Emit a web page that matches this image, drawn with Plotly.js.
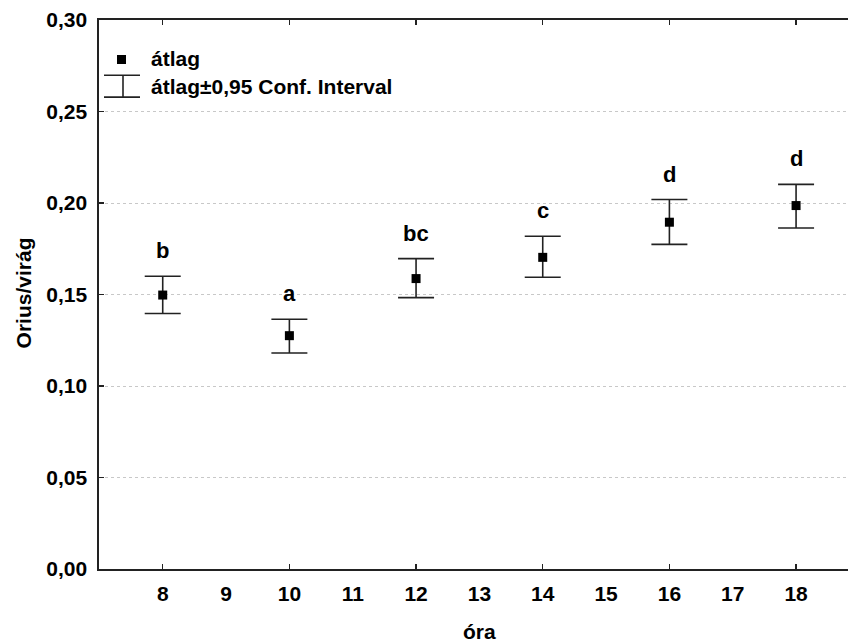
<!DOCTYPE html>
<html>
<head>
<meta charset="utf-8">
<script src="https://cdn.plot.ly/plotly-3.0.1.min.js"></script>
<style>html,body{margin:0;padding:0;background:#fff;}#chart{width:848px;height:642px;}</style>
</head>
<body>
<div id="chart"></div>
<script>
// Data
const hours = [8, 10, 12, 14, 16, 18];
const means = [0.1497, 0.1275, 0.1587, 0.1703, 0.1895, 0.1986];
const upper = [0.1600, 0.1365, 0.1696, 0.1818, 0.2019, 0.2102];
const lower = [0.1396, 0.1180, 0.1483, 0.1594, 0.1774, 0.1863];
const letters = ['b', 'a', 'bc', 'c', 'd', 'd'];
const xTickVals = [8, 9, 10, 11, 12, 13, 14, 15, 16, 17, 18];
const xMajorTicks = [8, 10, 12, 14, 16, 18];
const legendLabels = ['átlag', 'átlag±0,95 Conf. Interval'];
const xTitle = 'óra';
const yTitle = 'Orius/virág';

const W = 848, H = 642;
const L = 99, R = 848, T = 19.5, B = 568.7;
const px = x => (x - L) / (R - L);
const py = y => (B - y) / (B - T);

const FONT = 'Liberation Sans, Arial, sans-serif';
const fs = 21;
const axisColor = '#222';
const xRange = [6.994, 18.82];

const trace = {
  type: 'scatter',
  mode: 'markers',
  x: hours,
  y: means,
  marker: {symbol: 'square', size: 9, color: '#000'},
  error_y: {
    type: 'data',
    symmetric: false,
    array: upper.map((u, i) => u - means[i]),
    arrayminus: lower.map((l, i) => means[i] - l),
    color: axisColor,
    thickness: 1.6,
    width: 18
  },
  showlegend: false,
  hoverinfo: 'skip'
};

// empty trace only to bring the label axis into existence
const labelAxisTrace = {type: 'scatter', mode: 'markers', x: [], y: [], xaxis: 'x2', yaxis: 'y', showlegend: false, hoverinfo: 'skip'};

const annotations = hours.map((h, i) => ({
  x: h, y: upper[i], xref: 'x', yref: 'y',
  text: '<b>' + letters[i] + '</b>',
  showarrow: false, xanchor: 'center', yanchor: 'bottom', yshift: 11,
  font: {family: FONT, size: 22, color: '#000'}
}));

annotations.push({
  xref: 'paper', yref: 'paper', x: px(149), y: py(58),
  text: '<b>' + legendLabels[0] + '</b>', showarrow: false,
  xanchor: 'left', yanchor: 'middle',
  font: {family: FONT, size: fs, color: '#000'}
});
annotations.push({
  xref: 'paper', yref: 'paper', x: px(149), y: py(86),
  text: '<b>' + legendLabels[1] + '</b>', showarrow: false,
  xanchor: 'left', yanchor: 'middle',
  font: {family: FONT, size: fs, color: '#000'}
});
annotations.push({
  xref: 'paper', yref: 'paper', x: px(479), y: py(631),
  text: '<b>' + xTitle + '</b>', showarrow: false,
  xanchor: 'center', yanchor: 'middle',
  font: {family: FONT, size: fs, color: '#000'}
});
annotations.push({
  xref: 'paper', yref: 'paper', x: px(23), y: py(293),
  text: '<b>' + yTitle + '</b>', showarrow: false, textangle: -90,
  xanchor: 'center', yanchor: 'middle',
  font: {family: FONT, size: fs, color: '#000'}
});

const shapes = [
  {type: 'rect', xref: 'paper', yref: 'paper', x0: px(117), x1: px(126), y0: py(63.5), y1: py(54.5),
   fillcolor: '#000', line: {width: 0}},
  {type: 'line', xref: 'paper', yref: 'paper', x0: px(104), x1: px(140), y0: py(74.7), y1: py(74.7),
   line: {color: axisColor, width: 1.6}},
  {type: 'line', xref: 'paper', yref: 'paper', x0: px(104), x1: px(140), y0: py(96.7), y1: py(96.7),
   line: {color: axisColor, width: 1.6}},
  {type: 'line', xref: 'paper', yref: 'paper', x0: px(123), x1: px(123), y0: py(74.7), y1: py(96.7),
   line: {color: axisColor, width: 1.6}}
];

const layout = {
  width: W, height: H,
  margin: {l: L, r: W - R, t: T, b: H - B, pad: 0},
  paper_bgcolor: '#fff', plot_bgcolor: '#fff',
  separators: ', ',
  font: {family: FONT, size: fs, color: '#000'},
  showlegend: false,
  xaxis: {
    range: xRange,
    tickmode: 'array', tickvals: xMajorTicks, showticklabels: false,
    ticks: 'inside', ticklen: 5, tickcolor: axisColor, tickwidth: 1.2,
    showgrid: false, zeroline: false,
    showline: true, linecolor: axisColor, linewidth: 1.6, mirror: 'ticks',
    fixedrange: true
  },
  xaxis2: {
    overlaying: 'x', anchor: 'y', side: 'bottom',
    range: xRange,
    tickmode: 'array', tickvals: xTickVals, ticktext: xTickVals.map(v => '<b>' + v + '</b>'),
    ticks: '', showgrid: false, zeroline: false, showline: false,
    tickfont: {family: FONT, size: fs, color: '#000'},
    ticklabelstandoff: 10,
    fixedrange: true
  },
  yaxis: {
    range: [0, 0.30],
    tickmode: 'linear', tick0: 0, dtick: 0.05, tickformat: '.2f',
    ticks: 'inside', ticklen: 5, tickcolor: axisColor, tickwidth: 1.2,
    showgrid: true, gridcolor: '#c8c8c8', gridwidth: 1, griddash: 'dot',
    zeroline: false, showline: true, linecolor: axisColor, linewidth: 1.6,
    tickfont: {family: FONT, size: fs, color: '#000', weight: 'bold'},
    ticklabelstandoff: 6,
    fixedrange: true
  },
  annotations: annotations,
  shapes: shapes
};

Plotly.newPlot('chart', [trace, labelAxisTrace], layout, {displayModeBar: false, staticPlot: true});
</script>
</body>
</html>
